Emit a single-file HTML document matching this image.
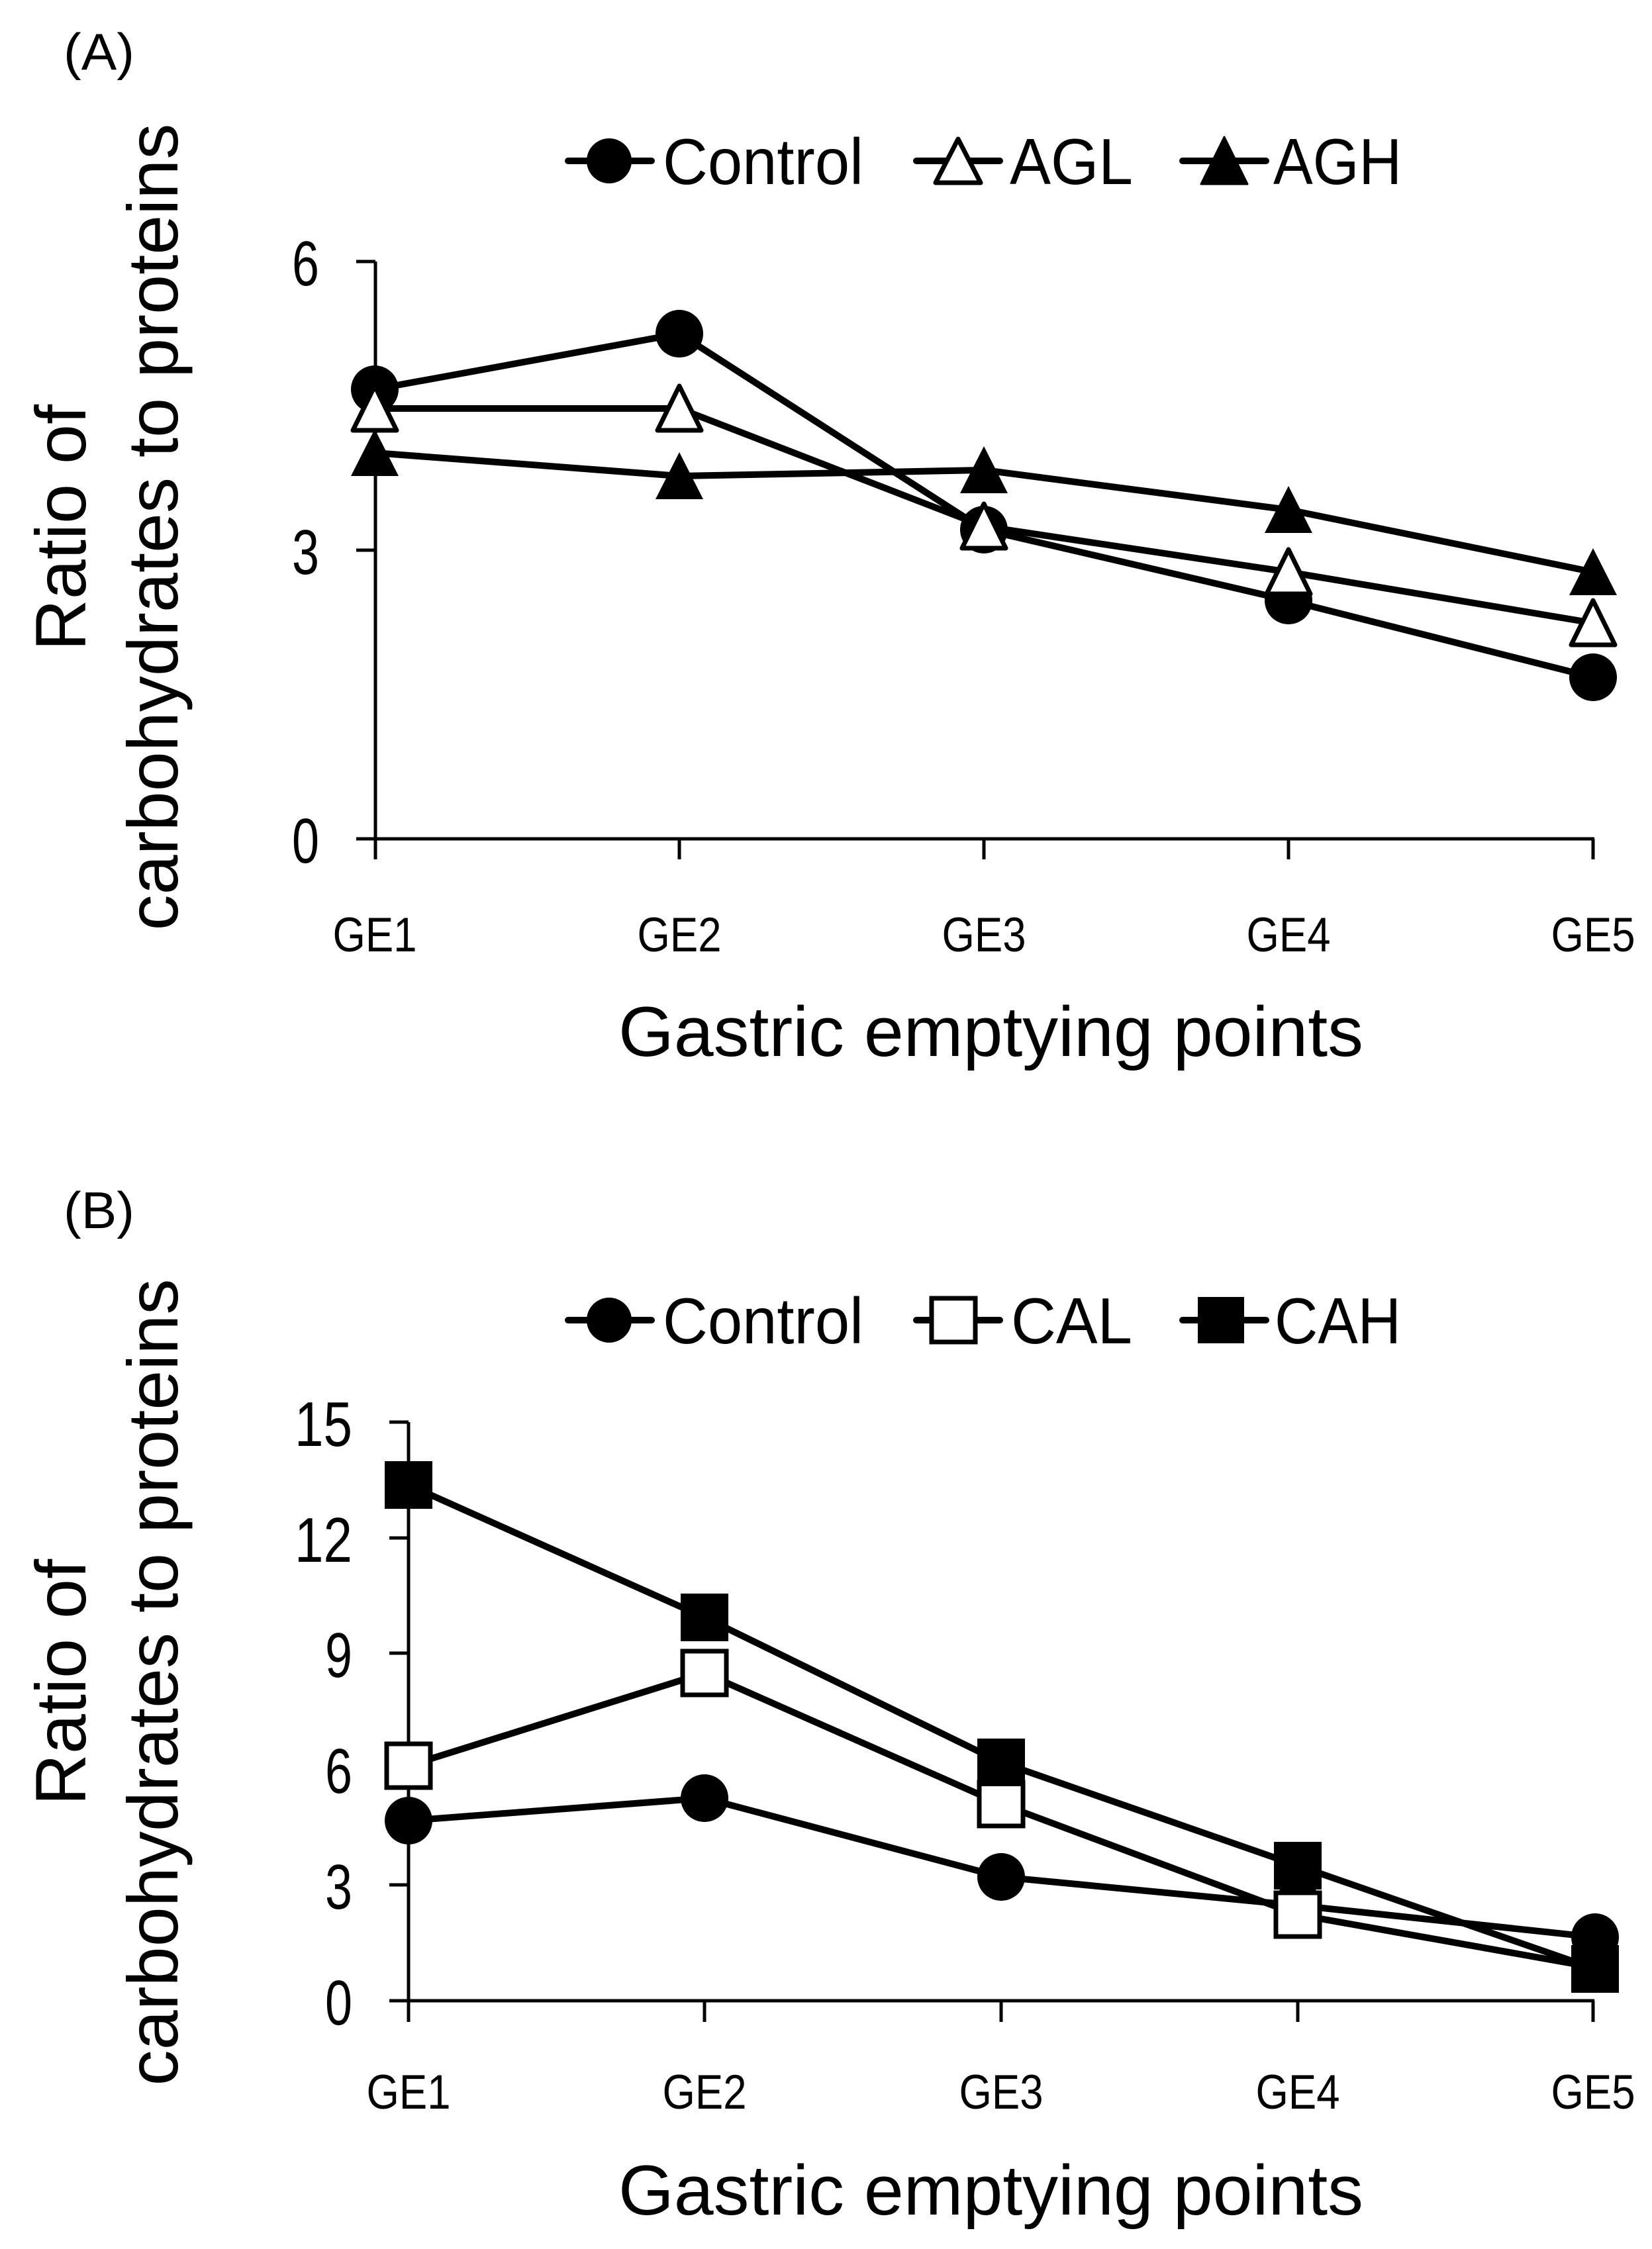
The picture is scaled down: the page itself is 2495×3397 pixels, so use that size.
<!DOCTYPE html>
<html><head><meta charset="utf-8"><style>
html,body{margin:0;padding:0;background:#fff;}
svg{display:block;}
text{font-family:"Liberation Sans",Arial,sans-serif;fill:#000;}
</style></head><body>
<svg width="2495" height="3397" viewBox="0 0 2495 3397" xmlns="http://www.w3.org/2000/svg">
<rect width="2495" height="3397" fill="#fff"/>

<!-- ================= PANEL A ================= -->
<text x="96" y="105" font-size="78" textLength="107" lengthAdjust="spacingAndGlyphs">(A)</text>
<text transform="translate(129,797) rotate(-90)" text-anchor="middle" font-size="108">Ratio of</text>
<text transform="translate(268,796) rotate(-90)" text-anchor="middle" font-size="108">carbohydrates to proteins</text>
<g stroke="#000" stroke-width="10" stroke-linecap="round">
<line x1="858" y1="243" x2="984" y2="243"/>
<line x1="1384" y1="243" x2="1510" y2="243"/>
<line x1="1786" y1="243" x2="1912" y2="243"/>
</g>
<circle cx="920" cy="243" r="34" fill="#000"/>
<polygon points="1447,210 1481,276 1413,276" fill="#fff" stroke="#000" stroke-width="7" stroke-linejoin="round"/>
<polygon points="1849,207 1884,278 1814,278" fill="#000" stroke="#000" stroke-width="3" stroke-linejoin="round"/>
<text x="1001" y="278" font-size="98" textLength="303" lengthAdjust="spacingAndGlyphs">Control</text>
<text x="1525" y="278" font-size="98" textLength="186" lengthAdjust="spacingAndGlyphs">AGL</text>
<text x="1923" y="278" font-size="98" textLength="194" lengthAdjust="spacingAndGlyphs">AGH</text>
<g stroke="#000" stroke-width="5" fill="none">
<line x1="567" y1="395" x2="567" y2="1298"/>
<line x1="538" y1="1267" x2="2408" y2="1267"/>
<line x1="538" y1="395" x2="567" y2="395"/>
<line x1="538" y1="831" x2="567" y2="831"/>
<line x1="1026" y1="1267" x2="1026" y2="1298"/>
<line x1="1486" y1="1267" x2="1486" y2="1298"/>
<line x1="1946" y1="1267" x2="1946" y2="1298"/>
<line x1="2406" y1="1267" x2="2406" y2="1298"/>
</g>
<g font-size="96" text-anchor="end">
<text x="482" y="431" textLength="41" lengthAdjust="spacingAndGlyphs">6</text>
<text x="482" y="867" textLength="41" lengthAdjust="spacingAndGlyphs">3</text>
<text x="482" y="1303" textLength="41" lengthAdjust="spacingAndGlyphs">0</text>
</g>
<g font-size="73" text-anchor="middle">
<text x="566" y="1437" textLength="127" lengthAdjust="spacingAndGlyphs">GE1</text>
<text x="1026" y="1437" textLength="127" lengthAdjust="spacingAndGlyphs">GE2</text>
<text x="1486" y="1437" textLength="127" lengthAdjust="spacingAndGlyphs">GE3</text>
<text x="1946" y="1437" textLength="127" lengthAdjust="spacingAndGlyphs">GE4</text>
<text x="2406" y="1437" textLength="127" lengthAdjust="spacingAndGlyphs">GE5</text>
</g>
<text x="934" y="1595" font-size="107" textLength="1125" lengthAdjust="spacingAndGlyphs">Gastric emptying points</text>
<g fill="none" stroke="#000" stroke-width="10" stroke-linejoin="round">
<polyline points="566,588 1026,504 1486,800 1946,907 2406,1023"/>
<polyline points="566,617 1026,617 1486,795 1946,864 2406,941"/>
<polyline points="566,684 1026,719 1486,710 1946,770 2406,864"/>
</g>
<g fill="#000">
<circle cx="566" cy="588" r="36"/><circle cx="1026" cy="504" r="36"/><circle cx="1486" cy="800" r="36"/><circle cx="1946" cy="907" r="36"/><circle cx="2406" cy="1023" r="36"/>
</g>
<g fill="#fff" stroke="#000" stroke-width="7" stroke-linejoin="round">
<polygon points="566,583 599,650 533,650"/>
<polygon points="1026,583 1059,650 993,650"/>
<polygon points="1486,761 1519,828 1453,828"/>
<polygon points="1946,830 1979,897 1913,897"/>
<polygon points="2406,907 2439,974 2373,974"/>
</g>
<g fill="#000">
<polygon points="566,648 602,719 530,719"/>
<polygon points="1026,683 1062,754 990,754"/>
<polygon points="1486,674 1522,745 1450,745"/>
<polygon points="1946,734 1982,805 1910,805"/>
<polygon points="2406,828 2442,899 2370,899"/>
</g>

<!-- ================= PANEL B ================= -->
<text x="96" y="1855" font-size="78" textLength="107" lengthAdjust="spacingAndGlyphs">(B)</text>
<text transform="translate(129,2541) rotate(-90)" text-anchor="middle" font-size="108">Ratio of</text>
<text transform="translate(268,2541) rotate(-90)" text-anchor="middle" font-size="108">carbohydrates to proteins</text>
<g stroke="#000" stroke-width="10" stroke-linecap="round">
<line x1="858" y1="1994" x2="984" y2="1994"/>
<line x1="1384" y1="1994" x2="1510" y2="1994"/>
<line x1="1786" y1="1994" x2="1912" y2="1994"/>
</g>
<circle cx="920" cy="1994" r="34" fill="#000"/>
<rect x="1407" y="1961" width="66" height="66" fill="#fff" stroke="#000" stroke-width="7"/>
<rect x="1809" y="1959" width="70" height="70" fill="#000"/>
<text x="1001" y="2029" font-size="98" textLength="303" lengthAdjust="spacingAndGlyphs">Control</text>
<text x="1527" y="2029" font-size="98" textLength="183" lengthAdjust="spacingAndGlyphs">CAL</text>
<text x="1925" y="2029" font-size="98" textLength="191" lengthAdjust="spacingAndGlyphs">CAH</text>
<g stroke="#000" stroke-width="5" fill="none">
<line x1="617" y1="2148" x2="617" y2="3054"/>
<line x1="588" y1="3022" x2="2408" y2="3022"/>
<line x1="588" y1="2148" x2="617" y2="2148"/>
<line x1="588" y1="2323" x2="617" y2="2323"/>
<line x1="588" y1="2497" x2="617" y2="2497"/>
<line x1="588" y1="2672" x2="617" y2="2672"/>
<line x1="588" y1="2847" x2="617" y2="2847"/>
<line x1="1064" y1="3022" x2="1064" y2="3054"/>
<line x1="1512" y1="3022" x2="1512" y2="3054"/>
<line x1="1960" y1="3022" x2="1960" y2="3054"/>
<line x1="2406" y1="3022" x2="2406" y2="3054"/>
</g>
<g font-size="96" text-anchor="end">
<text x="532" y="2184" textLength="87" lengthAdjust="spacingAndGlyphs">15</text>
<text x="532" y="2359" textLength="87" lengthAdjust="spacingAndGlyphs">12</text>
<text x="532" y="2533" textLength="41" lengthAdjust="spacingAndGlyphs">9</text>
<text x="532" y="2708" textLength="41" lengthAdjust="spacingAndGlyphs">6</text>
<text x="532" y="2883" textLength="41" lengthAdjust="spacingAndGlyphs">3</text>
<text x="532" y="3058" textLength="41" lengthAdjust="spacingAndGlyphs">0</text>
</g>
<g font-size="73" text-anchor="middle">
<text x="617" y="3185" textLength="127" lengthAdjust="spacingAndGlyphs">GE1</text>
<text x="1064" y="3185" textLength="127" lengthAdjust="spacingAndGlyphs">GE2</text>
<text x="1512" y="3185" textLength="127" lengthAdjust="spacingAndGlyphs">GE3</text>
<text x="1960" y="3185" textLength="127" lengthAdjust="spacingAndGlyphs">GE4</text>
<text x="2406" y="3185" textLength="127" lengthAdjust="spacingAndGlyphs">GE5</text>
</g>
<text x="934" y="3345" font-size="107" textLength="1125" lengthAdjust="spacingAndGlyphs">Gastric emptying points</text>
<g fill="none" stroke="#000" stroke-width="10" stroke-linejoin="round">
<polyline points="617,2750 1064,2716 1512,2835 1960,2878 2409,2926"/>
<polyline points="617,2667 1064,2527 1512,2725 1960,2892 2409,2972"/>
<polyline points="617,2243 1064,2443 1512,2662 1960,2818 2409,2974"/>
</g>
<g fill="#000">
<circle cx="617" cy="2750" r="36"/><circle cx="1064" cy="2716" r="36"/><circle cx="1512" cy="2835" r="36"/><circle cx="1960" cy="2878" r="36"/><circle cx="2409" cy="2926" r="36"/>
</g>
<g fill="#fff" stroke="#000" stroke-width="7">
<rect x="584" y="2634" width="66" height="66"/>
<rect x="1031" y="2494" width="66" height="66"/>
<rect x="1479" y="2692" width="66" height="66"/>
<rect x="1927" y="2859" width="66" height="66"/>
</g>
<g fill="#000">
<rect x="581" y="2207" width="72" height="72"/>
<rect x="1028" y="2407" width="72" height="72"/>
<rect x="1476" y="2626" width="72" height="72"/>
<rect x="1924" y="2782" width="72" height="72"/>
<rect x="2373" y="2938" width="72" height="72"/>
</g>
</svg>
</body></html>
